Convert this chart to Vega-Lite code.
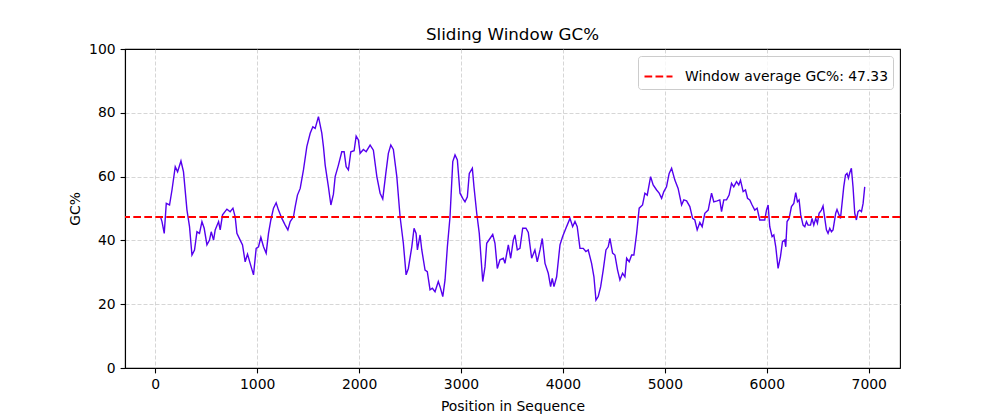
{
  "$schema": "https://vega.github.io/schema/vega-lite/v6.json",
  "width": 775,
  "height": 319,
  "autosize": {"type": "none"},
  "padding": {"left": 125, "top": 49, "right": 100, "bottom": 46},
  "background": "white",
  "title": {
    "text": "Sliding Window GC%",
    "font": "DejaVu Sans",
    "fontSize": 16.7,
    "fontWeight": "normal",
    "color": "black",
    "anchor": "middle",
    "baseline": "alphabetic",
    "offset": 7,
    "dy": 22
  },
  "config": {
    "font": "DejaVu Sans",
    "view": {"stroke": "black", "strokeWidth": 1.1},
    "axis": {
      "domainColor": "black",
      "domainWidth": 1.1,
      "tickColor": "black",
      "tickWidth": 1.1,
      "tickSize": 4.9,
      "labelFont": "DejaVu Sans",
      "labelFontSize": 13.9,
      "labelColor": "black",
      "labelPadding": 5,
      "titleFont": "DejaVu Sans",
      "titleFontSize": 13.9,
      "titleFontWeight": "normal",
      "titleColor": "black",
      "grid": true,
      "gridColor": "#cccccc",
      "gridDash": [4, 2],
      "gridWidth": 0.8
    }
  },
  "layer": [
    {
      "data": {
        "values": [
          {"pos": 49, "gc": 47.6}, {"pos": 66, "gc": 45.9}, {"pos": 88, "gc": 42.2}, {"pos": 108, "gc": 51.6},
          {"pos": 140, "gc": 51.1}, {"pos": 164, "gc": 55.8}, {"pos": 196, "gc": 63.1}, {"pos": 219, "gc": 61.5},
          {"pos": 252, "gc": 64.9}, {"pos": 277, "gc": 61.5}, {"pos": 311, "gc": 49.5}, {"pos": 336, "gc": 44.3},
          {"pos": 360, "gc": 35.4}, {"pos": 385, "gc": 37.0}, {"pos": 409, "gc": 42.7}, {"pos": 434, "gc": 42.2},
          {"pos": 458, "gc": 45.9}, {"pos": 480, "gc": 43.8}, {"pos": 507, "gc": 38.6}, {"pos": 532, "gc": 40.1},
          {"pos": 549, "gc": 42.7}, {"pos": 572, "gc": 40.1}, {"pos": 588, "gc": 43.3}, {"pos": 621, "gc": 45.9},
          {"pos": 637, "gc": 43.3}, {"pos": 660, "gc": 48.0}, {"pos": 703, "gc": 49.8}, {"pos": 735, "gc": 49.0},
          {"pos": 762, "gc": 50.1}, {"pos": 784, "gc": 47.4}, {"pos": 801, "gc": 42.2}, {"pos": 833, "gc": 40.1},
          {"pos": 856, "gc": 38.6}, {"pos": 882, "gc": 33.3}, {"pos": 905, "gc": 35.7}, {"pos": 931, "gc": 32.8},
          {"pos": 964, "gc": 29.2}, {"pos": 990, "gc": 37.5}, {"pos": 1013, "gc": 38.0}, {"pos": 1036, "gc": 41.0},
          {"pos": 1062, "gc": 38.0}, {"pos": 1088, "gc": 36.0}, {"pos": 1111, "gc": 42.2}, {"pos": 1134, "gc": 46.4},
          {"pos": 1160, "gc": 50.1}, {"pos": 1186, "gc": 51.8}, {"pos": 1209, "gc": 49.5}, {"pos": 1242, "gc": 46.9},
          {"pos": 1275, "gc": 44.8}, {"pos": 1301, "gc": 43.3}, {"pos": 1324, "gc": 45.9}, {"pos": 1356, "gc": 47.4},
          {"pos": 1373, "gc": 50.6}, {"pos": 1395, "gc": 54.2}, {"pos": 1422, "gc": 56.3}, {"pos": 1454, "gc": 62.1},
          {"pos": 1487, "gc": 69.4}, {"pos": 1520, "gc": 73.6}, {"pos": 1546, "gc": 75.6}, {"pos": 1569, "gc": 75.1},
          {"pos": 1601, "gc": 78.8}, {"pos": 1634, "gc": 73.6}, {"pos": 1650, "gc": 69.4}, {"pos": 1667, "gc": 63.6},
          {"pos": 1699, "gc": 56.8}, {"pos": 1723, "gc": 51.1}, {"pos": 1748, "gc": 54.5}, {"pos": 1765, "gc": 60.0},
          {"pos": 1797, "gc": 63.6}, {"pos": 1830, "gc": 67.8}, {"pos": 1853, "gc": 67.8}, {"pos": 1873, "gc": 63.1},
          {"pos": 1895, "gc": 62.1}, {"pos": 1919, "gc": 67.8}, {"pos": 1951, "gc": 68.1}, {"pos": 1971, "gc": 72.7},
          {"pos": 1993, "gc": 71.5}, {"pos": 2010, "gc": 67.3}, {"pos": 2042, "gc": 68.5}, {"pos": 2069, "gc": 67.8},
          {"pos": 2108, "gc": 69.9}, {"pos": 2140, "gc": 68.3}, {"pos": 2174, "gc": 60.0}, {"pos": 2206, "gc": 54.8},
          {"pos": 2232, "gc": 53.0}, {"pos": 2262, "gc": 61.0}, {"pos": 2287, "gc": 67.3}, {"pos": 2311, "gc": 69.9},
          {"pos": 2336, "gc": 68.5}, {"pos": 2370, "gc": 60.0}, {"pos": 2402, "gc": 47.4}, {"pos": 2434, "gc": 39.1},
          {"pos": 2461, "gc": 29.2}, {"pos": 2483, "gc": 31.2}, {"pos": 2517, "gc": 38.0}, {"pos": 2539, "gc": 43.8},
          {"pos": 2559, "gc": 42.2}, {"pos": 2572, "gc": 37.0}, {"pos": 2598, "gc": 41.7}, {"pos": 2615, "gc": 37.0},
          {"pos": 2647, "gc": 30.7}, {"pos": 2669, "gc": 30.2}, {"pos": 2696, "gc": 24.5}, {"pos": 2719, "gc": 25.0},
          {"pos": 2745, "gc": 23.9}, {"pos": 2777, "gc": 27.1}, {"pos": 2794, "gc": 25.5}, {"pos": 2821, "gc": 22.4},
          {"pos": 2843, "gc": 27.6}, {"pos": 2866, "gc": 38.0}, {"pos": 2892, "gc": 47.4}, {"pos": 2919, "gc": 64.7},
          {"pos": 2941, "gc": 66.8}, {"pos": 2964, "gc": 65.2}, {"pos": 2990, "gc": 54.8}, {"pos": 3017, "gc": 53.2},
          {"pos": 3039, "gc": 52.1}, {"pos": 3062, "gc": 53.7}, {"pos": 3081, "gc": 61.0}, {"pos": 3111, "gc": 62.6},
          {"pos": 3127, "gc": 56.8}, {"pos": 3154, "gc": 48.5}, {"pos": 3179, "gc": 42.2}, {"pos": 3213, "gc": 27.1},
          {"pos": 3235, "gc": 31.7}, {"pos": 3252, "gc": 39.1}, {"pos": 3284, "gc": 40.6}, {"pos": 3311, "gc": 41.9},
          {"pos": 3333, "gc": 39.1}, {"pos": 3356, "gc": 31.2}, {"pos": 3382, "gc": 33.9}, {"pos": 3415, "gc": 34.4},
          {"pos": 3431, "gc": 32.8}, {"pos": 3464, "gc": 38.6}, {"pos": 3487, "gc": 34.4}, {"pos": 3513, "gc": 40.1},
          {"pos": 3529, "gc": 41.7}, {"pos": 3552, "gc": 37.0}, {"pos": 3578, "gc": 37.5}, {"pos": 3605, "gc": 43.8},
          {"pos": 3637, "gc": 43.8}, {"pos": 3660, "gc": 42.5}, {"pos": 3693, "gc": 34.4}, {"pos": 3725, "gc": 37.0},
          {"pos": 3748, "gc": 33.3}, {"pos": 3775, "gc": 37.0}, {"pos": 3797, "gc": 40.6}, {"pos": 3824, "gc": 32.8},
          {"pos": 3856, "gc": 29.7}, {"pos": 3879, "gc": 25.5}, {"pos": 3895, "gc": 28.1}, {"pos": 3912, "gc": 25.5},
          {"pos": 3938, "gc": 28.6}, {"pos": 3971, "gc": 38.6}, {"pos": 3997, "gc": 41.2}, {"pos": 4029, "gc": 43.8},
          {"pos": 4069, "gc": 46.9}, {"pos": 4095, "gc": 44.3}, {"pos": 4118, "gc": 45.9}, {"pos": 4140, "gc": 44.3},
          {"pos": 4167, "gc": 37.5}, {"pos": 4199, "gc": 37.5}, {"pos": 4225, "gc": 36.5}, {"pos": 4248, "gc": 37.0},
          {"pos": 4281, "gc": 32.8}, {"pos": 4304, "gc": 28.6}, {"pos": 4324, "gc": 21.3}, {"pos": 4346, "gc": 22.4},
          {"pos": 4370, "gc": 25.5}, {"pos": 4395, "gc": 30.7}, {"pos": 4422, "gc": 37.0}, {"pos": 4444, "gc": 38.0},
          {"pos": 4461, "gc": 40.6}, {"pos": 4487, "gc": 36.0}, {"pos": 4510, "gc": 35.4}, {"pos": 4536, "gc": 30.7},
          {"pos": 4559, "gc": 27.6}, {"pos": 4585, "gc": 29.7}, {"pos": 4608, "gc": 28.6}, {"pos": 4625, "gc": 34.4},
          {"pos": 4650, "gc": 33.3}, {"pos": 4674, "gc": 35.4}, {"pos": 4696, "gc": 35.4}, {"pos": 4723, "gc": 42.2},
          {"pos": 4748, "gc": 50.1}, {"pos": 4781, "gc": 51.1}, {"pos": 4804, "gc": 54.8}, {"pos": 4827, "gc": 54.2},
          {"pos": 4860, "gc": 60.0}, {"pos": 4885, "gc": 57.4}, {"pos": 4919, "gc": 55.8}, {"pos": 4944, "gc": 54.8},
          {"pos": 4968, "gc": 53.2}, {"pos": 4990, "gc": 55.3}, {"pos": 5016, "gc": 56.8}, {"pos": 5042, "gc": 61.0},
          {"pos": 5066, "gc": 62.6}, {"pos": 5098, "gc": 58.9}, {"pos": 5130, "gc": 56.3}, {"pos": 5164, "gc": 51.1},
          {"pos": 5186, "gc": 52.7}, {"pos": 5213, "gc": 52.4}, {"pos": 5245, "gc": 50.6}, {"pos": 5272, "gc": 46.9},
          {"pos": 5294, "gc": 46.4}, {"pos": 5317, "gc": 43.3}, {"pos": 5343, "gc": 45.6}, {"pos": 5366, "gc": 44.3},
          {"pos": 5392, "gc": 48.5}, {"pos": 5425, "gc": 49.5}, {"pos": 5458, "gc": 54.8}, {"pos": 5480, "gc": 52.1},
          {"pos": 5513, "gc": 52.4}, {"pos": 5539, "gc": 52.7}, {"pos": 5556, "gc": 49.0}, {"pos": 5578, "gc": 52.7},
          {"pos": 5605, "gc": 52.7}, {"pos": 5630, "gc": 54.2}, {"pos": 5654, "gc": 57.9}, {"pos": 5676, "gc": 56.8},
          {"pos": 5703, "gc": 58.4}, {"pos": 5725, "gc": 57.4}, {"pos": 5742, "gc": 58.9}, {"pos": 5768, "gc": 55.3},
          {"pos": 5791, "gc": 55.8}, {"pos": 5811, "gc": 53.2}, {"pos": 5833, "gc": 52.7}, {"pos": 5856, "gc": 51.1},
          {"pos": 5882, "gc": 49.5}, {"pos": 5905, "gc": 50.1}, {"pos": 5931, "gc": 46.4}, {"pos": 5958, "gc": 46.4},
          {"pos": 5980, "gc": 46.4}, {"pos": 5997, "gc": 49.5}, {"pos": 6013, "gc": 51.1}, {"pos": 6029, "gc": 44.3},
          {"pos": 6052, "gc": 41.2}, {"pos": 6069, "gc": 41.7}, {"pos": 6088, "gc": 38.0}, {"pos": 6111, "gc": 31.2},
          {"pos": 6134, "gc": 34.9}, {"pos": 6154, "gc": 39.6}, {"pos": 6176, "gc": 40.1}, {"pos": 6186, "gc": 38.0},
          {"pos": 6199, "gc": 45.9}, {"pos": 6219, "gc": 46.9}, {"pos": 6242, "gc": 50.6}, {"pos": 6265, "gc": 51.6},
          {"pos": 6284, "gc": 55.0}, {"pos": 6301, "gc": 52.1}, {"pos": 6317, "gc": 52.7}, {"pos": 6333, "gc": 48.0},
          {"pos": 6356, "gc": 44.8}, {"pos": 6373, "gc": 44.3}, {"pos": 6389, "gc": 45.9}, {"pos": 6405, "gc": 44.8},
          {"pos": 6429, "gc": 44.8}, {"pos": 6444, "gc": 46.9}, {"pos": 6461, "gc": 44.8}, {"pos": 6480, "gc": 46.9},
          {"pos": 6497, "gc": 45.4}, {"pos": 6513, "gc": 48.5}, {"pos": 6536, "gc": 49.5}, {"pos": 6552, "gc": 50.8},
          {"pos": 6569, "gc": 46.9}, {"pos": 6585, "gc": 43.3}, {"pos": 6601, "gc": 42.2}, {"pos": 6618, "gc": 43.8},
          {"pos": 6634, "gc": 42.7}, {"pos": 6650, "gc": 43.3}, {"pos": 6676, "gc": 48.5}, {"pos": 6689, "gc": 49.7},
          {"pos": 6709, "gc": 48.0}, {"pos": 6723, "gc": 46.9}, {"pos": 6742, "gc": 52.7}, {"pos": 6755, "gc": 56.8},
          {"pos": 6772, "gc": 60.5}, {"pos": 6787, "gc": 61.0}, {"pos": 6801, "gc": 59.5}, {"pos": 6814, "gc": 61.2},
          {"pos": 6830, "gc": 62.6}, {"pos": 6846, "gc": 56.8}, {"pos": 6863, "gc": 48.5}, {"pos": 6879, "gc": 46.4},
          {"pos": 6895, "gc": 49.0}, {"pos": 6912, "gc": 49.5}, {"pos": 6929, "gc": 49.0}, {"pos": 6945, "gc": 51.6},
          {"pos": 6961, "gc": 56.8}
        ]
      },
      "mark": {"type": "line", "color": "#5500ee", "strokeWidth": 1.4, "interpolate": "linear"},
      "encoding": {
        "x": {
          "field": "pos",
          "type": "quantitative",
          "scale": {"domain": [-297, 7307], "nice": false, "zero": false},
          "axis": {"title": "Position in Sequence", "format": "d", "values": [0, 1000, 2000, 3000, 4000, 5000, 6000, 7000], "titlePadding": 8}
        },
        "y": {
          "field": "gc",
          "type": "quantitative",
          "scale": {"domain": [0, 100], "nice": false},
          "axis": {
            "title": "GC%",
            "values": [0, 20, 40, 60, 80, 100],
            "titlePadding": 6,
            "gridOpacity": {"condition": {"test": "datum.value >= 100", "value": 0}, "value": 1}
          }
        }
      }
    },
    {
      "data": {"values": [{"avg": 47.33, "label": "Window average GC%: 47.33"}]},
      "mark": {"type": "rule", "strokeWidth": 2.1, "strokeDash": [7.7, 3.3]},
      "encoding": {
        "y": {"field": "avg", "type": "quantitative"},
        "color": {
          "field": "label",
          "type": "nominal",
          "scale": {"range": ["#ff0000"]},
          "legend": {
            "title": null,
            "orient": "top-right",
            "offset": 7,
            "fillColor": "rgba(255,255,255,0.8)",
            "strokeColor": "#cccccc",
            "cornerRadius": 3,
            "padding": 5,
            "symbolType": "stroke",
            "symbolSize": 784,
            "symbolStrokeWidth": 2.1,
            "symbolDash": [7.7, 3.3],
            "symbolOffset": 0,
            "labelOffset": 11,
            "labelLimit": 0,
            "labelFont": "DejaVu Sans",
            "labelFontSize": 13.9,
            "labelColor": "black"
          }
        }
      }
    }
  ]
}
